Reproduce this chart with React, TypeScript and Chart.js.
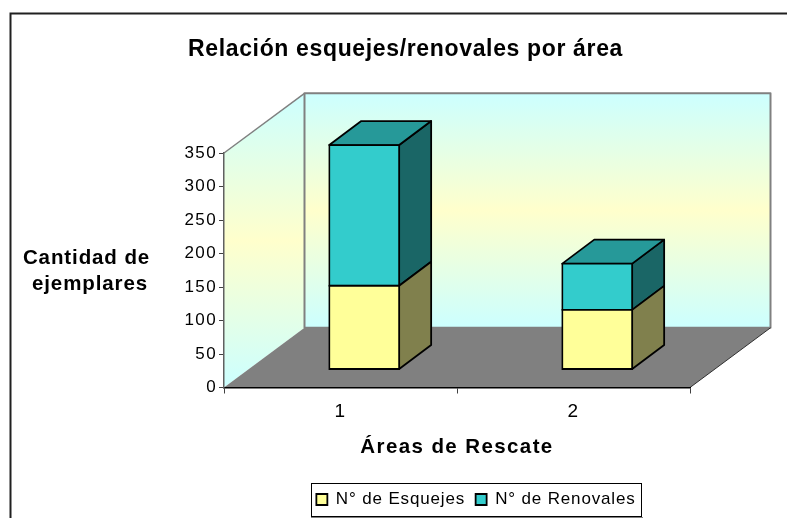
import React, { useEffect, useRef } from "react";
import { Chart, registerables } from "chart.js";

Chart.register(...registerables);

const categories = ["1", "2"];
const esquejes = [125, 89];
const renovales = [210, 69];
const chartTitle = "Relación esquejes/renovales por área";
const yTitleLines = ["Cantidad de", "ejemplares"];
const xTitle = "Áreas de Rescate";
const seriesNames = ["N° de Esquejes", "N° de Renovales"];
const yMax = 350;
const yStep = 50;

const FONT = "'Liberation Sans', Arial, sans-serif";
const WALL_DEPTH = { x: 80.5, y: -59.7 };
const BAR_SHIFT = { x: 23.7, y: -18 };
const BAR_DEPTH = { x: 32, y: -24 };
const EDGE = 1.8;

const poly = (ctx: CanvasRenderingContext2D, pts: number[][], fill: string | CanvasGradient, stroke?: string, lw = 1) => {
  ctx.beginPath();
  pts.forEach((p, i) => (i ? ctx.lineTo(p[0], p[1]) : ctx.moveTo(p[0], p[1])));
  ctx.closePath();
  ctx.fillStyle = fill;
  ctx.fill();
  if (stroke) {
    ctx.strokeStyle = stroke;
    ctx.lineWidth = lw;
    ctx.lineJoin = "round";
    ctx.stroke();
  }
};

const scene3d = {
  id: "scene3d",
  beforeLayout(chart: any) {
    chart.ctx.letterSpacing = "0.85px";
  },
  afterLayout(chart: any) {
    chart.ctx.letterSpacing = "1.4px";
    const legend = chart.legend;
    const shift = 476 - (legend.left + legend.right) / 2;
    legend.left += shift;
    legend.right += shift;
    legend.legendHitBoxes.forEach((h: any) => (h.left += shift));
    const title = chart.titleBlock;
    const tShift = 405.5 - (title.left + title.right) / 2;
    title.left += tShift;
    title.right += tShift;
    if (!title.__wrapped) {
      title.__wrapped = true;
      const orig = title.draw.bind(title);
      title.draw = (...a: any[]) => {
        const c = chart.ctx;
        const prev = c.letterSpacing;
        c.letterSpacing = "0.65px";
        orig(...a);
        c.letterSpacing = prev;
      };
      const origL = legend.draw.bind(legend);
      legend.draw = (...a: any[]) => {
        const c = chart.ctx;
        const prev = c.letterSpacing;
        c.letterSpacing = "0.85px";
        origL(...a);
        c.letterSpacing = prev;
      };
    }
  },
  beforeDraw(chart: any) {
    const ctx = chart.ctx as CanvasRenderingContext2D;
    const { left, right, top, bottom } = chart.chartArea;
    const dx = WALL_DEPTH.x;
    const dy = WALL_DEPTH.y;
    ctx.save();
    ctx.fillStyle = "#ffffff";
    ctx.fillRect(0, 0, chart.width, chart.height);
    // chart frame (cropped on the right and at the bottom)
    ctx.strokeStyle = "#202020";
    ctx.lineWidth = 2;
    ctx.beginPath();
    ctx.moveTo(10.5, chart.height);
    ctx.lineTo(10.5, 13.5);
    ctx.lineTo(chart.width, 13.5);
    ctx.stroke();

    const g = ctx.createLinearGradient(0, top + dy, 0, bottom);
    g.addColorStop(0, "#CCFFFF");
    g.addColorStop(0.5, "#FFFFCC");
    g.addColorStop(1, "#CCFFFF");
    const gBack = ctx.createLinearGradient(0, top + dy, 0, bottom + dy);
    gBack.addColorStop(0, "#CCFFFF");
    gBack.addColorStop(0.5, "#FFFFCC");
    gBack.addColorStop(1, "#CCFFFF");
    // left wall
    poly(ctx, [[left, top], [left + dx, top + dy], [left + dx, bottom + dy], [left, bottom]], g);
    // back wall
    poly(ctx, [[left + dx, top + dy], [right + dx, top + dy], [right + dx, bottom + dy], [left + dx, bottom + dy]], gBack, "#808080", 2);
    // left wall top edge
    ctx.strokeStyle = "#808080";
    ctx.lineWidth = 1.5;
    ctx.beginPath();
    ctx.moveTo(left, top);
    ctx.lineTo(left + dx, top + dy);
    ctx.stroke();
    // floor
    poly(ctx, [[left, bottom], [left + dx, bottom + dy], [right + dx, bottom + dy], [right, bottom]], "#808080");
    ctx.strokeStyle = "#303030";
    ctx.lineWidth = 1;
    ctx.beginPath();
    ctx.moveTo(right, bottom);
    ctx.lineTo(right + dx, bottom + dy);
    ctx.stroke();
    ctx.restore();
  },
  beforeDatasetDraw(chart: any, args: any) {
    const ctx = chart.ctx as CanvasRenderingContext2D;
    ctx.save();
    ctx.translate(BAR_SHIFT.x, BAR_SHIFT.y);
    const side = args.index === 0 ? "#80804D" : "#1A6666";
    const isTop = args.index === chart.data.datasets.length - 1;
    args.meta.data.forEach((bar: any) => {
      const r = bar.x + bar.width / 2;
      const l = bar.x - bar.width / 2;
      const y = bar.y;
      const b = bar.base;
      const d = BAR_DEPTH;
      poly(ctx, [[r, y], [r + d.x, y + d.y], [r + d.x, b + d.y], [r, b]], side, "#000000", EDGE);
      if (isTop) {
        poly(ctx, [[l, y], [l + d.x, y + d.y], [r + d.x, y + d.y], [r, y]], "#269999", "#000000", EDGE);
      }
    });
  },
  afterDatasetDraw(chart: any) {
    chart.ctx.restore();
  },
  afterDraw(chart: any) {
    const ctx = chart.ctx as CanvasRenderingContext2D;
    ctx.save();
    // y axis title, horizontal
    ctx.letterSpacing = "0.9px";
    ctx.font = `bold 20.5px ${FONT}`;
    ctx.fillStyle = "#000000";
    ctx.textAlign = "center";
    ctx.textBaseline = "middle";
    yTitleLines.forEach((line, i) => ctx.fillText(line, i === 0 ? 86.5 : 90, 258 + i * 26));
    // legend frame
    const boxes = chart.legend.legendHitBoxes;
    const x0 = Math.min(...boxes.map((h: any) => h.left)) - 5;
    const x1 = Math.max(...boxes.map((h: any) => h.left + h.width)) + 6;
    ctx.strokeStyle = "#000000";
    ctx.lineWidth = 1;
    ctx.strokeRect(Math.round(x0) + 0.5, 483.5, Math.round(x1 - x0), 33);
    ctx.strokeStyle = "#808080";
    ctx.beginPath();
    ctx.moveTo(Math.round(x0), 517.5);
    ctx.lineTo(Math.round(x1) + 1, 517.5);
    ctx.stroke();
    ctx.restore();
  },
};

export default function App() {
  const ref = useRef<HTMLCanvasElement>(null);
  useEffect(() => {
    const chart = new Chart(ref.current as HTMLCanvasElement, {
      type: "bar",
      data: {
        labels: categories,
        datasets: [
          {
            label: seriesNames[0],
            data: esquejes,
            backgroundColor: "#FFFF99",
            borderColor: "#000000",
            borderWidth: EDGE,
            borderSkipped: false,
            inflateAmount: 0.9,
            clip: false,
            categoryPercentage: 1,
            barPercentage: 0.3,
          },
          {
            label: seriesNames[1],
            data: renovales,
            backgroundColor: "#33CCCC",
            borderColor: "#000000",
            borderWidth: EDGE,
            borderSkipped: false,
            inflateAmount: 0.9,
            clip: false,
            categoryPercentage: 1,
            barPercentage: 0.3,
          },
        ] as any,
      },
      options: {
        responsive: false,
        animation: false,
        layout: { padding: { left: 0, right: 97, top: 0, bottom: 0 } },
        plugins: {
          tooltip: { enabled: false },
          title: {
            display: true,
            text: chartTitle,
            color: "#000000",
            font: { family: FONT, size: 23, weight: "bold", lineHeight: 1.2 },
            padding: { top: 36, bottom: 89.4 },
          },
          legend: {
            display: true,
            position: "bottom",
            labels: {
              color: "#000000",
              font: { family: FONT, size: 17 },
              boxWidth: 11,
              boxHeight: 11,
              padding: 10.5,
            },
          },
        },
        scales: {
          x: {
            stacked: true,
            offset: true,
            afterFit: (s: any) => {
              s.height = 93;
            },
            grid: { display: true, offset: true, drawOnChartArea: false, drawTicks: true, tickLength: 6, color: "#404040" },
            border: { display: true, color: "#000000", width: 1.5 },
            ticks: { color: "#000000", font: { family: FONT, size: 19 }, padding: 7, maxRotation: 0 },
            title: {
              display: true,
              text: xTitle,
              color: "#000000",
              font: { family: FONT, size: 20.5, weight: "bold", lineHeight: 1.2 },
              padding: { top: 0, bottom: 21 },
            },
          },
          y: {
            stacked: true,
            min: 0,
            max: yMax,
            afterFit: (s: any) => {
              s.width = 224;
            },
            grid: { display: true, drawOnChartArea: false, drawTicks: true, tickLength: 5, color: "#404040" },
            border: { display: true, color: "#606060", width: 1.5 },
            ticks: { stepSize: yStep, color: "#000000", font: { family: FONT, size: 17 }, padding: 2 },
          },
        },
      },
      plugins: [scene3d],
    } as any);
    return () => chart.destroy();
  }, []);
  return (
    <div style={{ position: "fixed", left: 0, top: 0, width: 787, height: 518, background: "#fff" }}>
      <canvas ref={ref} width={787} height={518} style={{ display: "block" }} />
    </div>
  );
}
